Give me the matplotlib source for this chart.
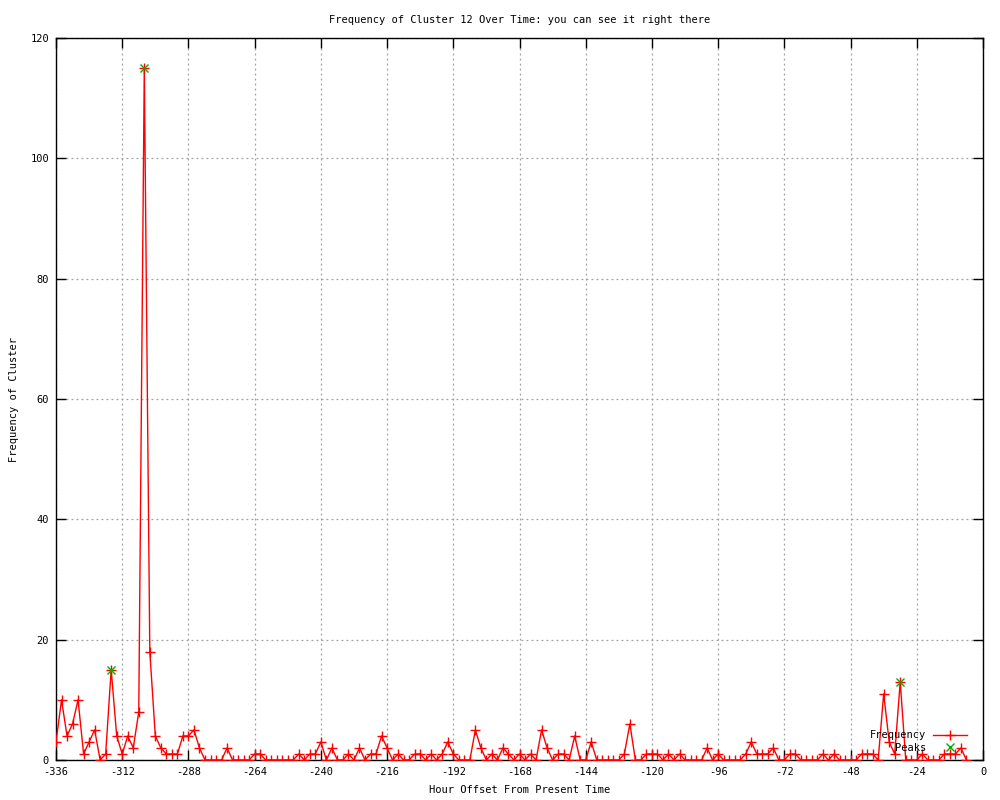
import matplotlib
matplotlib.use("Agg")
import matplotlib.pyplot as plt
import numpy as np

hours = list(range(-336, -4, 2))
frequency = [
    3, 10, 4, 6, 10, 1, 3, 5, 0, 1,          # -336 .. -318
    15, 4, 1, 4, 2, 8, 115, 18, 4, 2,        # -316 .. -298
    1, 1, 1, 4, 4, 5, 2, 0, 0, 0,            # -296 .. -278
    0, 2, 0, 0, 0, 0, 1, 1, 0, 0,            # -276 .. -258
    0, 0, 0, 0, 1, 0, 1, 1, 3, 0,            # -256 .. -238
    2, 0, 0, 1, 0, 2, 0, 1, 1, 4,            # -236 .. -218
    2, 0, 1, 0, 0, 1, 1, 0, 1, 0,            # -216 .. -198
    1, 3, 1, 0, 0, 0, 5, 2, 0, 1,            # -196 .. -178
    0, 2, 1, 0, 1, 0, 1, 0, 5, 2,            # -176 .. -158
    0, 1, 1, 0, 4, 0, 0, 3, 0, 0,            # -156 .. -138
    0, 0, 0, 1, 6, 0, 0, 1, 1, 1,            # -136 .. -118
    0, 1, 0, 1, 0, 0, 0, 0, 2, 0,            # -116 .. -98
    1, 0, 0, 0, 0, 1, 3, 1, 1, 1,            # -96 .. -78
    2, 0, 0, 1, 1, 0, 0, 0, 0, 1,            # -76 .. -58
    0, 1, 0, 0, 0, 0, 1, 1, 1, 0,            # -56 .. -38
    11, 3, 1, 13, 0, 0, 0, 1, 0, 0,          # -36 .. -18
    0, 1, 1, 1, 2, 0,                        # -16 .. -6
]
peak_hours = [-316, -304, -30]
peak_values = [15, 115, 13]

x_ticks = list(range(-336, 1, 24))
y_ticks = list(range(0, 121, 20))

title = "Frequency of Cluster 12 Over Time: you can see it right there"
x_label = "Hour Offset From Present Time"
y_label = "Frequency of Cluster"

plt.rcParams['font.family'] = ['DejaVu Sans Mono', 'DejaVu Sans']
plt.rcParams['font.size'] = 7.5
plt.rcParams['axes.unicode_minus'] = False

fig = plt.figure(figsize=(10, 8), dpi=100)
ax = fig.add_axes([0.056, 0.05, 0.927, 0.9025])

ax.plot(hours, frequency, color='#ff0000', linewidth=1.0, marker='+',
        markersize=6.5, markeredgewidth=1.0, label='Frequency', zorder=3)
ax.plot(peak_hours, peak_values, linestyle='none', color='#00b000', marker='x',
        markersize=5.5, markeredgewidth=1.0, label='Peaks', zorder=4)

ax.set_xlim(-336, 0)
ax.set_ylim(0, 120)
ax.set_xticks(x_ticks)
ax.set_yticks(y_ticks)
ax.grid(True, color='#a0a0a0', linestyle=(0, (1.5, 2.5)), linewidth=0.9)
ax.set_axisbelow(True)
ax.tick_params(direction='in', length=7, width=1.0, top=True, right=True,
               labelsize=7.5, pad=5)
for s in ax.spines.values():
    s.set_linewidth(1.0)
    s.set_color('black')

ax.set_title(title, fontsize=7.5, pad=11)
ax.set_xlabel(x_label, fontsize=7.5, labelpad=6)
ax.set_ylabel(y_label, fontsize=7.5, labelpad=8)

leg = ax.legend(loc='lower right', bbox_to_anchor=(0.993, -0.003), frameon=False,
                markerfirst=False, fontsize=7.5, handlelength=3.3,
                labelspacing=0.25, borderaxespad=0.5, handletextpad=0.6)

fig.savefig('out.png', dpi=100)
